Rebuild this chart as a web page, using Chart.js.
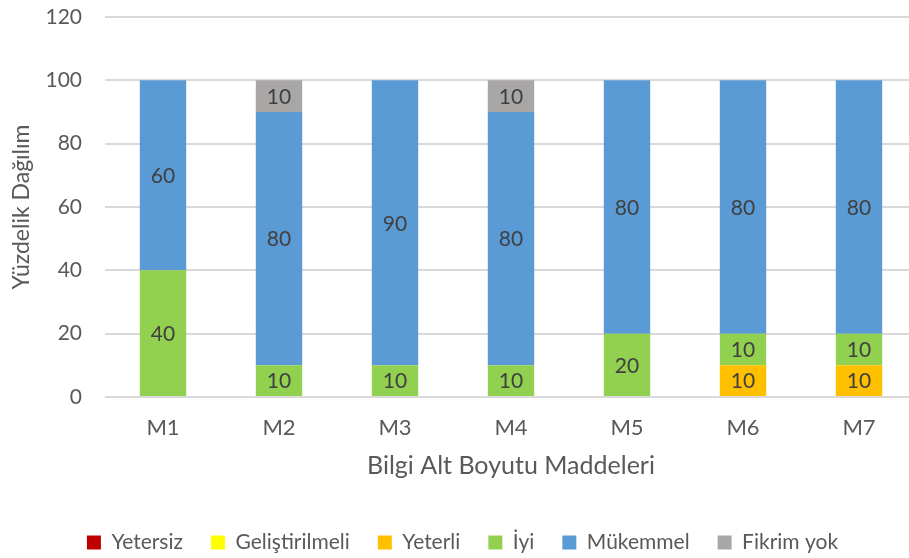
<!DOCTYPE html>
<html lang="tr">
<head>
    <meta charset="UTF-8">
    <title>Bilgi Alt Boyutu Maddeleri</title>
    <script src="https://cdn.jsdelivr.net/npm/chart.js"></script>
    <style>
        html, body { margin: 0; padding: 0; background: #fff; overflow: hidden; }
        .chart-box { position: relative; width: 917px; height: 558px; }
    </style>
</head>
<body>
    <div class="chart-box">
        <canvas id="dagilimChart"></canvas>
    </div>

    <script>
        const maddeler = ["M1", "M2", "M3", "M4", "M5", "M6", "M7"];
        const yetersiz = [0, 0, 0, 0, 0, 0, 0];
        const gelistirilmeli = [0, 0, 0, 0, 0, 0, 0];
        const yeterli = [0, 0, 0, 0, 0, 10, 10];
        const iyi = [40, 10, 10, 10, 20, 10, 10];
        const mukemmel = [60, 80, 90, 80, 80, 80, 80];
        const fikrimYok = [0, 10, 0, 10, 0, 0, 0];

        const FONT = "Lato, 'Open Sans', sans-serif";
        const GRI = "#595959";

        // bar ortasına değer yazısı (0 olanlar yazılmaz)
        const degerEtiketleri = {
            id: "degerEtiketleri",
            afterDatasetsDraw(chart) {
                const ctx = chart.ctx;
                ctx.save();
                ctx.font = "21px " + FONT;
                ctx.fillStyle = "#404040";
                ctx.textAlign = "center";
                ctx.textBaseline = "middle";
                chart.data.datasets.forEach((ds, i) => {
                    const meta = chart.getDatasetMeta(i);
                    meta.data.forEach((bar, j) => {
                        const v = ds.data[j];
                        if (!v) return;
                        ctx.fillText(String(v), bar.x, (bar.y + bar.base) / 2 + 1);
                    });
                });
                ctx.restore();
            }
        };

        const seri = (label, data, color) => ({
            label, data,
            backgroundColor: color,
            borderWidth: 0,
            barPercentage: 0.4,
            categoryPercentage: 1
        });

        new Chart(document.getElementById("dagilimChart"), {
            type: "bar",
            data: {
                labels: maddeler,
                datasets: [
                    seri("Yetersiz", yetersiz, "#C00000"),
                    seri("Geliştirilmeli", gelistirilmeli, "#FFFF00"),
                    seri("Yeterli", yeterli, "#FFC000"),
                    seri("İyi", iyi, "#92D050"),
                    seri("Mükemmel", mukemmel, "#5B9BD5"),
                    seri("Fikrim yok", fikrimYok, "#A9A6A6")
                ]
            },
            options: {
                responsive: true,
                maintainAspectRatio: false,
                animation: false,
                layout: { padding: { top: 0, left: 8, right: 0, bottom: -5 } },
                plugins: {
                    tooltip: { enabled: false },
                    legend: {
                        position: "bottom",
                        labels: {
                            font: { family: FONT, size: 21 },
                            color: GRI,
                            boxWidth: 14,
                            boxHeight: 14,
                            padding: 28
                        }
                    }
                },
                scales: {
                    x: {
                        stacked: true,
                        grid: { display: false },
                        border: { display: false },
                        afterFit(scale) { scale.height = 107; },
                        ticks: {
                            font: { family: FONT, size: 22 },
                            color: GRI,
                            padding: 10
                        },
                        title: {
                            display: true,
                            text: "Bilgi Alt Boyutu Maddeleri",
                            font: { family: FONT, size: 25 },
                            color: GRI,
                            padding: { top: 0, bottom: 23 }
                        }
                    },
                    y: {
                        stacked: true,
                        min: 0,
                        max: 120,
                        afterFit(scale) {
                            scale.width = 97;
                            scale.paddingTop = 17;
                            scale.paddingBottom = 0;
                        },
                        ticks: {
                            stepSize: 20,
                            font: { family: FONT, size: 21 },
                            color: GRI,
                            padding: 23
                        },
                        grid: {
                            color: "#D9D9D9",
                            lineWidth: 2,
                            drawTicks: false
                        },
                        border: { display: false },
                        title: {
                            display: true,
                            text: "Yüzdelik Dağılım",
                            font: { family: FONT, size: 23 },
                            color: GRI,
                            padding: { top: 0, bottom: 0 }
                        }
                    }
                }
            },
            plugins: [degerEtiketleri]
        });
    </script>
</body>
</html>
